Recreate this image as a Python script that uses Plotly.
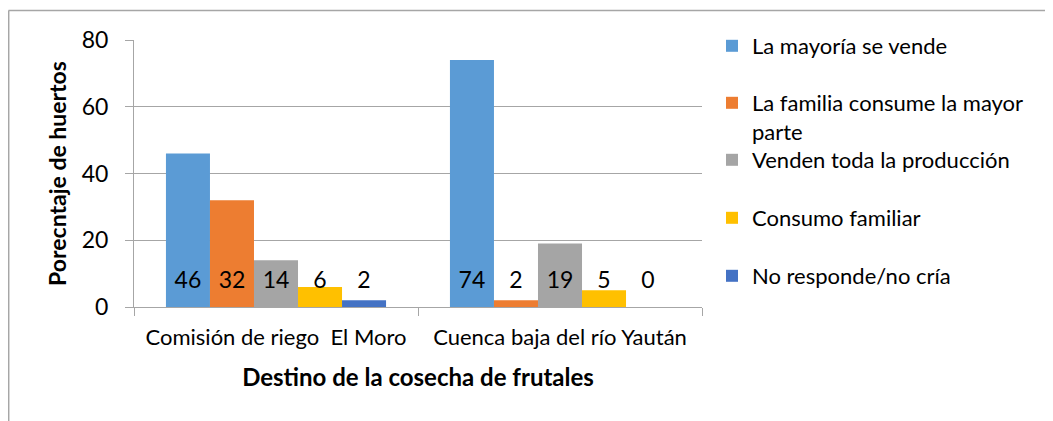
import plotly.graph_objects as go

categories = ["Comisión de riego  El Moro", "Cuenca baja del río Yaután"]
series_names = [
    "La mayoría se vende",
    "La familia consume la mayor<br>parte",
    "Venden toda la producción",
    "Consumo familiar",
    "No responde/no cría",
]
series_values = [
    [46, 74],
    [32, 2],
    [14, 19],
    [6, 5],
    [2, 0],
]
colors = ["#5B9BD5", "#ED7D31", "#A5A5A5", "#FFC000", "#4472C4"]
y_ticks = [0, 20, 40, 60, 80]
label_level = 7.4  # data labels sit near the base of the bars ("inside base")

FONT = "Lato"
BODY = 8  # page body margin of the html page
W, H = 1053 - BODY, 421 - BODY
PL, PR, PT, PB = 134, 702, 40, 307  # plot area in page pixels
ML, MT = PL - BODY, PT - BODY
PW, PH = PR - PL, PB - PT
MR, MB = W - ML - PW, H - MT - PH

def px_x(px):
    return (px - PL) / PW

def px_y(py):
    return 1 - (py - PT) / PH

fig = go.Figure()
legend_ids = ["legend", "legend2", "legend3", "legend4", "legend5"]
for i, (name, vals, col) in enumerate(zip(series_names, series_values, colors)):
    fig.add_trace(go.Bar(
        x=categories, y=vals, name=name, marker_color=col,
        marker_line_width=0, legend=legend_ids[i], hoverinfo="skip",
    ))
for i, vals in enumerate(series_values):
    fig.add_trace(go.Scatter(
        x=categories, y=[label_level] * len(vals), mode="text",
        text=[str(v) for v in vals], textposition="middle center",
        textfont=dict(family=FONT, size=23, color="#000000"),
        showlegend=False, hoverinfo="skip", cliponaxis=False,
    ))

legend_centers = [46, 102, 160, 218, 276]
legend_common = dict(
    font=dict(family=FONT, size=22, color="#000000"),
    bgcolor="rgba(0,0,0,0)", x=px_x(712), xanchor="left",
)
layout_legends = {}
for i, lid in enumerate(legend_ids):
    if i == 1:
        layout_legends[lid] = dict(legend_common, y=px_y(legend_centers[i] - 20),
                                   yanchor="top", valign="top")
    else:
        layout_legends[lid] = dict(legend_common, y=px_y(legend_centers[i]),
                                   yanchor="middle")

fig.update_layout(
    width=W, height=H,
    margin=dict(l=ML, r=MR, t=MT, b=MB, autoexpand=False),
    barmode="group", bargap=0.225, bargroupgap=0,
    scattermode="group", scattergap=0.225,
    paper_bgcolor="#ffffff", plot_bgcolor="#ffffff",
    font=dict(family=FONT, color="#000000"),
    showlegend=True,
    **layout_legends,
    xaxis=dict(
        showline=True, linecolor="#a6a6a6", linewidth=1,
        ticks="outside", tickson="boundaries", ticklen=8, tickcolor="#a6a6a6",
        tickfont=dict(family=FONT, size=22, color="#000000"),
        ticklabelstandoff=11,
        title=dict(text="<b>Destino de la cosecha de frutales</b>",
                   font=dict(family=FONT, size=24, color="#000000"), standoff=19),
        showgrid=False,
    ),
    yaxis=dict(
        range=[0, 80], tickvals=y_ticks,
        showline=True, linecolor="#a6a6a6", linewidth=1,
        ticks="outside", ticklen=8, tickcolor="#a6a6a6",
        ticklabelstandoff=12,
        showgrid=True, gridcolor="#a6a6a6", gridwidth=1,
        zeroline=False,
        tickfont=dict(family=FONT, size=23, color="#000000"),
        title=dict(text="<b>Porecntaje de huertos</b>",
                   font=dict(family=FONT, size=23, color="#000000"), standoff=8),
    ),
    shapes=[
        dict(type="line", xref="paper", yref="paper",
             x0=px_x(8.5), x1=px_x(1070), y0=px_y(10.5), y1=px_y(10.5),
             line=dict(color="#a6a6a6", width=1.5)),
        dict(type="line", xref="paper", yref="paper",
             x0=px_x(8.7), x1=px_x(8.7), y0=px_y(10.5), y1=px_y(440),
             line=dict(color="#a6a6a6", width=1.5)),
    ],
)

fig.write_html("out.html")
